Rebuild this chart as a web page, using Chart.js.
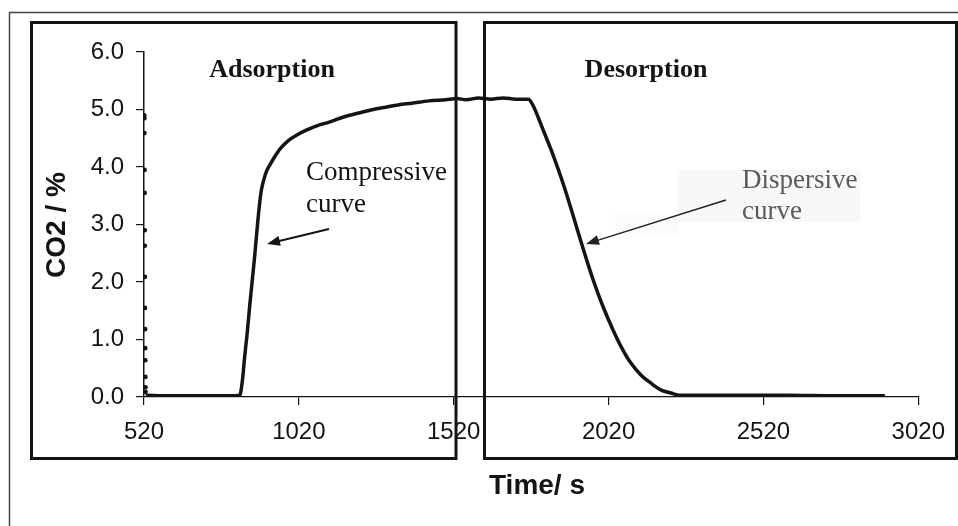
<!DOCTYPE html>
<html>
<head>
<meta charset="utf-8">
<script src="https://cdn.jsdelivr.net/npm/chart.js@4"></script>
<style>
    html, body { margin: 0; padding: 0; background: #fff; }
    canvas { display: block; }
</style>
</head>
<body>
<canvas id="co2Chart" width="958" height="526"></canvas>
<script>
// ── Данные
const xTicks = [520, 1020, 1520, 2020, 2520, 3020];
const yTicks = [0, 1, 2, 3, 4, 5, 6];

// основная кривая: время, с / CO2, %
const timeS = [
    526, 600, 700, 800, 829, 838, 845, 853, 861, 869, 877, 887, 893, 899, 907, 915,
    928, 941, 960, 989, 1015, 1044, 1080, 1118, 1165, 1214, 1260, 1301, 1340, 1385,
    1440, 1494, 1530, 1560, 1600, 1640, 1680, 1720, 1761, 1775, 1787, 1809, 1840,
    1874, 1903, 1931, 1950, 1970, 2000, 2034, 2062, 2092, 2125, 2157, 2190, 2221,
    2250, 2400, 2600, 2750, 2912
];
const co2 = [
    0.03, 0.02, 0.02, 0.02, 0.03, 0.30, 0.70, 1.10, 1.57, 2.00, 2.43, 3.03, 3.35, 3.60, 3.78, 3.92,
    4.05, 4.17, 4.32, 4.47, 4.56, 4.64, 4.72, 4.78, 4.87, 4.94, 5.00, 5.04, 5.08, 5.11,
    5.15, 5.17, 5.19, 5.17, 5.20, 5.18, 5.20, 5.18, 5.18, 5.08, 4.94, 4.64, 4.22,
    3.70, 3.20, 2.70, 2.37, 2.04, 1.60, 1.17, 0.86, 0.59, 0.38, 0.24, 0.12, 0.07,
    0.03, 0.03, 0.03, 0.02, 0.02
];

// отдельные точки у оси в начале записи
const startTime = [521, 521.3, 521.6, 521.9, 522.2, 522.5, 522.8, 523.1, 523.4, 523.7, 524, 524.3, 524.6, 524.9, 525.2];
const startCO2  = [4.90, 4.85, 4.59, 3.95, 3.55, 2.90, 2.63, 2.09, 1.55, 1.18, 0.85, 0.64, 0.35, 0.17, 0.09];

// ── Стиль
const INK   = '#141414';
const SANS  = '"Liberation Sans", Arial, sans-serif';
const SERIF = '"Liberation Serif", "Times New Roman", serif';

function arrow(ctx, x1, y1, x2, y2, width, color) {
    const ang = Math.atan2(y2 - y1, x2 - x1);
    const len = 13, half = 5;
    ctx.save();
    ctx.strokeStyle = color;
    ctx.fillStyle   = color;
    ctx.lineWidth   = width;
    ctx.beginPath();
    ctx.moveTo(x1, y1);
    ctx.lineTo(x2 - Math.cos(ang) * len * 0.8, y2 - Math.sin(ang) * len * 0.8);
    ctx.stroke();
    ctx.beginPath();
    ctx.moveTo(x2, y2);
    ctx.lineTo(x2 - Math.cos(ang) * len - Math.sin(ang) * half, y2 - Math.sin(ang) * len + Math.cos(ang) * half);
    ctx.lineTo(x2 - Math.cos(ang) * len + Math.sin(ang) * half, y2 - Math.sin(ang) * len - Math.cos(ang) * half);
    ctx.closePath();
    ctx.fill();
    ctx.restore();
}

// ── Подложка под подписью «Dispersive»
const backdrop = {
    id: 'backdrop',
    beforeDatasetsDraw(chart) {
        const ctx = chart.ctx;
        ctx.save();
        ctx.fillStyle = '#f8f8f8';
        ctx.fillRect(678, 170, 182, 52);
        ctx.fillStyle = '#fbfbfb';
        ctx.fillRect(615, 213, 63, 22);
        ctx.restore();
    }
};

// ── Подписи, стрелки, рамки
const overlay = {
    id: 'overlay',
    afterDraw(chart) {
        const ctx = chart.ctx;
        ctx.save();

        // заголовки осей
        ctx.fillStyle = INK;
        ctx.font = `bold 28px ${SANS}`;
        ctx.textAlign = 'center';
        ctx.textBaseline = 'middle';
        ctx.fillText('Time/ s', 537, 486);
        ctx.save();
        ctx.translate(57, 225);
        ctx.rotate(-Math.PI / 2);
        ctx.fillText('CO2 / %', 0, 0);
        ctx.restore();

        // зоны
        ctx.font = `bold 26px ${SERIF}`;
        ctx.textBaseline = 'alphabetic';
        ctx.fillText('Adsorption', 272, 77);
        ctx.fillText('Desorption', 646, 77);

        // пояснения к кривым
        ctx.textAlign = 'left';
        ctx.font = `27px ${SERIF}`;
        ctx.fillText('Compressive', 306, 180);
        ctx.fillText('curve', 306, 212);
        ctx.fillStyle = '#5a5a5a';
        ctx.fillText('Dispersive', 742, 188);
        ctx.fillText('curve', 742, 219);

        arrow(ctx, 329, 229, 267, 244, 2, INK);
        arrow(ctx, 726, 200, 586, 244, 1.5, '#222');

        // рамки
        ctx.strokeStyle = '#444';
        ctx.lineWidth = 1.5;
        ctx.strokeRect(9.5, 12.5, 960, 530);
        ctx.strokeStyle = INK;
        ctx.lineWidth = 3;
        ctx.strokeRect(31.5, 22.5, 424.5, 436);
        ctx.strokeRect(484.5, 22.5, 472, 436);
        ctx.restore();
    }
};

// ── График
new Chart(document.getElementById('co2Chart').getContext('2d'), {
    type: 'line',
    data: {
        datasets: [
            {
                label:       'CO2',
                data:        timeS.map((t, i) => ({ x: t, y: co2[i] })),
                borderColor: INK,
                borderWidth: 3.5,
                pointRadius: 0,
                cubicInterpolationMode: 'monotone',
                fill:        false
            },
            {
                label:       'CO2 start',
                data:        startTime.map((t, i) => ({ x: t, y: startCO2[i] })),
                showLine:    false,
                pointRadius: 2.3,
                pointBackgroundColor: INK,
                pointBorderWidth: 0
            }
        ]
    },
    options: {
        responsive: false,
        animation:  false,
        layout:     { padding: { top: 52, right: 34, left: 0, bottom: 0 } },
        plugins: {
            legend:  { display: false },
            tooltip: { enabled: false }
        },
        scales: {
            x: {
                type: 'linear',
                min:  520,
                max:  3020,
                afterFit:        (s) => { s.height = 129; },
                afterBuildTicks: (s) => { s.ticks = xTicks.map(v => ({ value: v })); },
                grid:   { drawOnChartArea: false, tickLength: 8, color: INK, lineWidth: 1.2 },
                border: { color: INK, width: 1.2 },
                ticks:  {
                    color: INK, font: { family: SANS, size: 24 }, padding: 13,
                    maxRotation: 0, autoSkip: false, callback: (v) => String(v)
                }
            },
            y: {
                min: 0,
                max: 6,
                afterFit:        (s) => { s.width = 144; },
                afterBuildTicks: (s) => { s.ticks = yTicks.map(v => ({ value: v })); },
                grid:   { drawOnChartArea: false, tickLength: 8, color: INK, lineWidth: 1.2 },
                border: { color: INK, width: 1.5 },
                ticks:  { color: INK, font: { family: SANS, size: 24 }, padding: 12, callback: (v) => v.toFixed(1) }
            }
        }
    },
    plugins: [backdrop, overlay]
});
</script>
</body>
</html>
